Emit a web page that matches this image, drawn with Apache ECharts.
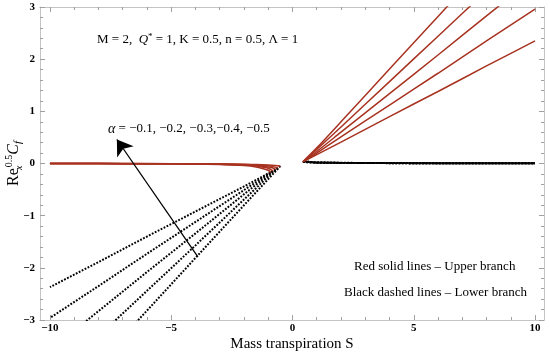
<!DOCTYPE html>
<html>
<head>
<meta charset="utf-8">
<script src="https://cdn.jsdelivr.net/npm/echarts@6/dist/echarts.min.js"></script>
<style>html,body{margin:0;padding:0;background:#fff;}#c{width:550px;height:357px;}</style>
</head>
<body>
<div id="c"></div>
<script>
// ---- axis ranges & ticks ----
const XMIN = -10.41, XMAX = 10.37;
const YMIN = -3, YMAX = 3;
const xMajorTicks = [-10, -5, 0, 5, 10];
const xMinorTicks = [-10,-9,-8,-7,-6,-5,-4,-3,-2,-1,0,1,2,3,4,5,6,7,8,9,10];

// ---- alpha values ----
const alphas = ['-0.1', '-0.2', '-0.3', '-0.4', '-0.5'];

// ---- upper branch (red solid), S < 0 ----
const upperLeft1 = [[-10,0],[-8,-0.002],[-6,-0.005],[-4,-0.01],[-3,-0.02],[-2,-0.04],[-1.5,-0.065],[-1.2,-0.1],[-1.0,-0.13],[-0.9,-0.17]];
const upperLeft2 = [[-10,0],[-8,-0.002],[-6,-0.004],[-4,-0.008],[-3,-0.015],[-2,-0.03],[-1.5,-0.05],[-1.2,-0.07],[-1.0,-0.09],[-0.8,-0.14]];
const upperLeft3 = [[-10,0],[-8,-0.002],[-6,-0.004],[-4,-0.007],[-3,-0.012],[-2,-0.025],[-1.5,-0.04],[-1.0,-0.065],[-0.8,-0.085],[-0.7,-0.11]];
const upperLeft4 = [[-10,0],[-8,-0.001],[-6,-0.003],[-4,-0.006],[-3,-0.01],[-2,-0.02],[-1.5,-0.03],[-1.0,-0.045],[-0.8,-0.06],[-0.6,-0.08]];
const upperLeft5 = [[-10,0],[-8,-0.001],[-6,-0.002],[-4,-0.005],[-3,-0.008],[-2,-0.015],[-1.5,-0.02],[-1.0,-0.03],[-0.7,-0.04],[-0.5,-0.05]];

// ---- lower branch (black dashed), S < 0 ----
const lowerLeft1 = [[-0.9,-0.17],[-1,-0.19],[-2,-0.44],[-4,-0.92],[-6,-1.40],[-8,-1.89],[-10,-2.37]];
const lowerLeft2 = [[-0.8,-0.14],[-1,-0.20],[-2,-0.51],[-4,-1.12],[-6,-1.73],[-8,-2.35],[-10,-2.96]];
const lowerLeft3 = [[-0.7,-0.11],[-1,-0.22],[-2,-0.59],[-4,-1.34],[-6,-2.08],[-8,-2.83],[-10,-3.58]];
const lowerLeft4 = [[-0.6,-0.08],[-1,-0.25],[-2,-0.69],[-4,-1.57],[-6,-2.44],[-8,-3.31],[-10,-4.18]];
const lowerLeft5 = [[-0.5,-0.05],[-1,-0.30],[-2,-0.80],[-4,-1.81],[-6,-2.82],[-8,-3.82],[-10,-4.83]];

// ---- upper branch (red solid), S > 0 ----
const upperRight1 = [[0.5,0.05],[1,0.17],[2,0.41],[4,0.90],[6,1.38],[8,1.87],[10,2.35]];
const upperRight2 = [[0.48,0.045],[1,0.20],[2,0.51],[4,1.12],[6,1.73],[8,2.35],[10,2.96]];
const upperRight3 = [[0.46,0.04],[1,0.23],[2,0.60],[4,1.34],[6,2.08],[8,2.83],[10,3.57]];
const upperRight4 = [[0.44,0.035],[1,0.27],[2,0.70],[4,1.57],[6,2.44],[8,3.31],[10,4.18]];
const upperRight5 = [[0.42,0.03],[1,0.30],[2,0.80],[4,1.81],[6,2.82],[8,3.82],[10,4.83]];

// ---- lower branch (black dashed), S > 0 ----
const lowerRight1 = [[0.5,0.05],[0.7,0.03],[1,0.02],[2,0.013],[4,0.009],[6,0.007],[8,0.006],[10,0.005]];
const lowerRight2 = [[0.48,0.045],[0.7,0.028],[1,0.019],[2,0.012],[4,0.008],[6,0.006],[8,0.005],[10,0.005]];
const lowerRight3 = [[0.46,0.04],[0.7,0.026],[1,0.018],[2,0.011],[4,0.008],[6,0.006],[8,0.005],[10,0.004]];
const lowerRight4 = [[0.44,0.035],[0.7,0.024],[1,0.017],[2,0.011],[4,0.007],[6,0.005],[8,0.004],[10,0.004]];
const lowerRight5 = [[0.42,0.03],[0.7,0.022],[1,0.016],[2,0.010],[4,0.007],[6,0.005],[8,0.004],[10,0.003]];

// ---- arrow annotation (data coords) ----
const arrowFrom = [-3.90, -1.79];
const arrowTo = [-7.24, 0.46];

const upperSets = [upperLeft1, upperLeft2, upperLeft3, upperLeft4, upperLeft5,
                   upperRight1, upperRight2, upperRight3, upperRight4, upperRight5];
const lowerSets = [lowerLeft1, lowerLeft2, lowerLeft3, lowerLeft4, lowerLeft5,
                   lowerRight1, lowerRight2, lowerRight3, lowerRight4, lowerRight5];

const SERIF = '"Liberation Serif", "Times New Roman", "DejaVu Serif", serif';
const RED = '#a83220';
const FRAME = '#c4c4c4';
const TICK = '#a0a0a0';

const fmt = v => (v < 0 ? '\u2212' + (-v) : String(v));

function xAx(opts) {
  return Object.assign({
    type: 'value', min: XMIN, max: XMAX,
    axisLine: { show: true, onZero: false, lineStyle: { color: FRAME, width: 1 } },
    splitLine: { show: false },
    axisLabel: { show: false }
  }, opts);
}

const series = [];
lowerSets.forEach((d, i) => {
  series.push({
    type: 'line', data: d, showSymbol: false, symbol: 'none', silent: true,
    lineStyle: { color: '#000', width: 2, type: [1.8, 1.5] },
    z: 2, animation: false
  });
});
upperSets.forEach((d, i) => {
  series.push({
    type: 'line', data: d, showSymbol: false, symbol: 'none', silent: true, smooth: 0.3,
    lineStyle: { color: RED, width: 1.5 },
    z: 3, animation: false
  });
});
series.push({
  type: 'line', data: [], silent: true, animation: false,
  markLine: {
    silent: true, animation: false,
    symbol: ['none', 'arrow'], symbolSize: 15,
    label: { show: false },
    lineStyle: { color: '#000', width: 1.3, type: 'solid' },
    data: [[{ coord: arrowFrom }, { coord: arrowTo }]]
  }
});

const chart = echarts.init(document.getElementById('c'), null, { renderer: 'canvas' });
chart.setOption({
  backgroundColor: '#fff',
  animation: false,
  grid: { left: 40, right: 6, top: 7, bottom: 37, containLabel: false, outerBoundsMode: 'none' },
  xAxis: [
    xAx({
      position: 'bottom',
      axisTick: { show: true, inside: true, length: 5, customValues: xMajorTicks, lineStyle: { color: TICK } },
      axisLabel: { show: true, customValues: xMajorTicks, formatter: fmt, color: '#000', fontWeight: 'bold',
                   fontFamily: SERIF, fontSize: 11, margin: 3 },
      name: 'Mass transpiration S', nameLocation: 'middle', nameGap: 17, nameMoveOverlap: false,
      nameTextStyle: { color: '#000', fontFamily: SERIF, fontSize: 15 }
    }),
    xAx({ position: 'bottom', axisTick: { show: true, inside: true, length: 3, customValues: xMinorTicks, lineStyle: { color: TICK } } }),
    xAx({ position: 'top', axisTick: { show: true, inside: true, length: 5, customValues: xMajorTicks, lineStyle: { color: TICK } } }),
    xAx({ position: 'top', axisTick: { show: true, inside: true, length: 3, customValues: xMinorTicks, lineStyle: { color: TICK } } })
  ],
  yAxis: [
    {
      type: 'value', min: YMIN, max: YMAX, interval: 1, position: 'left',
      axisLine: { show: true, onZero: false, lineStyle: { color: FRAME } },
      axisTick: { show: true, inside: true, length: 5, lineStyle: { color: TICK } },
      minorTick: { show: true, splitNumber: 5, length: 3, lineStyle: { color: TICK } },
      splitLine: { show: false },
      axisLabel: { formatter: fmt, color: '#000', fontWeight: 'bold', fontFamily: SERIF, fontSize: 11, margin: 5 },
      name: '{n|Re}{sb|x}{sp|0.5}{c|C}{f|f}',
      nameLocation: 'middle', nameGap: 16, nameRotate: 90, nameMoveOverlap: false,
      nameTextStyle: {
        fontFamily: SERIF, color: '#000',
        rich: {
          n: { fontFamily: SERIF, fontSize: 16, lineHeight: 20, color: '#000' },
          sb: { fontFamily: SERIF, fontSize: 10, fontStyle: 'italic', lineHeight: 20, verticalAlign: 'bottom', width: 1, color: '#000' },
          sp: { fontFamily: SERIF, fontSize: 10, lineHeight: 20, verticalAlign: 'top', color: '#000' },
          c: { fontFamily: SERIF, fontSize: 16, fontStyle: 'italic', lineHeight: 20, color: '#000' },
          f: { fontFamily: SERIF, fontSize: 11, fontStyle: 'italic', lineHeight: 20, verticalAlign: 'bottom', color: '#000' }
        }
      }
    },
    {
      type: 'value', min: YMIN, max: YMAX, interval: 1, position: 'right',
      axisLine: { show: true, onZero: false, lineStyle: { color: FRAME } },
      axisTick: { show: true, inside: true, length: 5, lineStyle: { color: TICK } },
      minorTick: { show: true, splitNumber: 5, length: 3, lineStyle: { color: TICK } },
      splitLine: { show: false },
      axisLabel: { show: false }
    }
  ],
  graphic: [
    {
      type: 'text', left: 97, top: 32, silent: true,
      style: {
        text: 'M = 2,  {i|Q}{s|*} = 1, K = 0.5, n = 0.5, \u039B = 1',
        font: '13px ' + SERIF, fill: '#000',
        rich: {
          i: { fontFamily: SERIF, fontSize: 13, fontStyle: 'italic', fill: '#000', lineHeight: 16 },
          s: { fontFamily: SERIF, fontSize: 9, fill: '#000', verticalAlign: 'top', lineHeight: 16 }
        }
      }
    },
    {
      type: 'text', left: 108, top: 122, silent: true,
      style: {
        text: '{i|\u03B1} = \u22120.1, \u22120.2, \u22120.3,\u22120.4, \u22120.5',
        font: '13px ' + SERIF, fill: '#000',
        rich: { i: { fontFamily: SERIF, fontSize: 14, fontStyle: 'italic', fill: '#000' } }
      }
    },
    {
      type: 'text', left: 354, top: 260, silent: true,
      style: { text: 'Red solid lines \u2013 Upper branch', font: '13px ' + SERIF, fill: '#000' }
    },
    {
      type: 'text', left: 344, top: 286, silent: true,
      style: { text: 'Black dashed lines \u2013 Lower branch', font: '13px ' + SERIF, fill: '#000' }
    }
  ],
  series: series
});
</script>
</body>
</html>
